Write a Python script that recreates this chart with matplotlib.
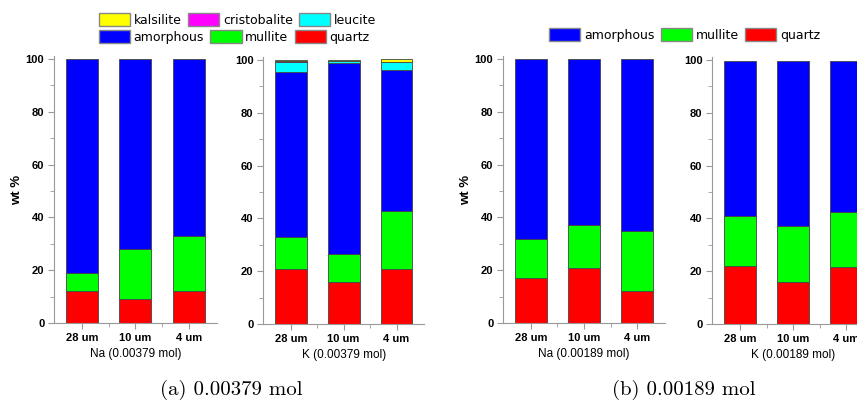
import numpy as np
import matplotlib
matplotlib.use('Agg')
import matplotlib.pyplot as plt
from matplotlib.patches import Patch

sizes = ['28 um', '10 um', '4 um']

# wt % of each phase, bottom to top of the stack
na379_quartz = [12, 9, 12]
na379_mullite = [7, 19, 21]
na379_amorphous = [81, 72, 67]

k379_quartz = [21, 16, 21]
k379_mullite = [12, 10.5, 22]
k379_amorphous = [62.6, 72.4, 53.2]
k379_leucite = [3.8, 0.7, 3.0]
k379_cristobalite = [0.1, 0.1, 0.1]
k379_kalsilite = [0.5, 0.5, 1.2]

na189_quartz = [17, 21, 12]
na189_mullite = [15, 16, 23]
na189_amorphous = [68, 63, 65]

k189_quartz = [22, 16, 21.5]
k189_mullite = [19, 21, 21]
k189_amorphous = [58.7, 62.7, 57.2]

colors = {'quartz': '#ff0000', 'mullite': '#00ff00', 'amorphous': '#0000ff',
          'leucite': '#00ffff', 'cristobalite': '#ff00ff', 'kalsilite': '#ffff00'}

panels = [
    ('Na (0.00379 mol)', [('quartz', na379_quartz), ('mullite', na379_mullite), ('amorphous', na379_amorphous)],
     [0.063, 0.1985, 0.190, 0.6615], True),
    ('K (0.00379 mol)', [('quartz', k379_quartz), ('mullite', k379_mullite), ('amorphous', k379_amorphous),
                         ('leucite', k379_leucite), ('cristobalite', k379_cristobalite), ('kalsilite', k379_kalsilite)],
     [0.307, 0.196, 0.188, 0.6615], False),
    ('Na (0.00189 mol)', [('quartz', na189_quartz), ('mullite', na189_mullite), ('amorphous', na189_amorphous)],
     [0.587, 0.1985, 0.189, 0.6615], True),
    ('K (0.00189 mol)', [('quartz', k189_quartz), ('mullite', k189_mullite), ('amorphous', k189_amorphous)],
     [0.831, 0.196, 0.189, 0.6615], False),
]

fig = plt.figure(figsize=(8.57, 4.03), dpi=100)
tickfont = dict(family='Liberation Sans', size=8, weight='bold')

for xlabel, stack, pos, show_ylabel in panels:
    ax = fig.add_axes(pos)
    x = np.arange(len(sizes))
    bottom = np.zeros(len(sizes))
    for name, vals in stack:
        ax.bar(x, vals, 0.6, bottom=bottom, color=colors[name],
               edgecolor='#444444', linewidth=0.6, clip_on=False)
        bottom += np.array(vals)
    ax.set_xlim(-0.523, 2.523)
    ax.set_ylim(0, 101)
    ax.set_yticks([0, 20, 40, 60, 80, 100])
    ax.set_yticks([10, 30, 50, 70, 90], minor=True)
    ax.set_xticks(x)
    ax.set_xticks([0.5, 1.5], minor=True)
    ax.set_xticklabels(sizes, fontdict=tickfont)
    ax.set_yticklabels([str(v) for v in [0, 20, 40, 60, 80, 100]], fontdict=tickfont)
    for s in ['top', 'right']:
        ax.spines[s].set_visible(False)
    for s in ['left', 'bottom']:
        ax.spines[s].set_color('#999999')
        ax.spines[s].set_linewidth(0.8)
    ax.tick_params(which='major', length=4, color='#999999', pad=3)
    ax.tick_params(which='minor', length=3, color='#999999')
    ax.set_xlabel(xlabel, family='Liberation Sans', size=8.5, labelpad=4)
    if show_ylabel:
        ax.set_ylabel('wt %', family='Liberation Sans', size=9.5, weight='bold', labelpad=2)

# legends
leg_kw = dict(ncol=3, frameon=False, prop={'family': 'DejaVu Sans', 'size': 9},
              handlelength=2.5, handleheight=1.15, handletextpad=0.3, columnspacing=0.5)

row1 = ['kalsilite', 'cristobalite', 'leucite']
row2 = ['amorphous', 'mullite', 'quartz']
fig.legend(handles=[Patch(facecolor=colors[n], edgecolor='#888888', label=n) for n in row1],
           loc='center left', bbox_to_anchor=(0.102, 1 - 20 / 403), **leg_kw)
fig.legend(handles=[Patch(facecolor=colors[n], edgecolor='#888888', label=n) for n in row2],
           loc='center left', bbox_to_anchor=(0.102, 1 - 37 / 403), **leg_kw)

order_b = ['amorphous', 'mullite', 'quartz']
fig.legend(handles=[Patch(facecolor=colors[n], edgecolor='#888888', label=n) for n in order_b],
           loc='center', bbox_to_anchor=(0.799, 0.913), **leg_kw)

# captions
fig.text(0.27, 1 - 390 / 403, '(a) 0.00379 mol', family='cmr10', size=15, ha='center', va='center')
fig.text(0.798, 1 - 390 / 403, '(b) 0.00189 mol', family='cmr10', size=15, ha='center', va='center')

fig.savefig('out.png', dpi=100)
